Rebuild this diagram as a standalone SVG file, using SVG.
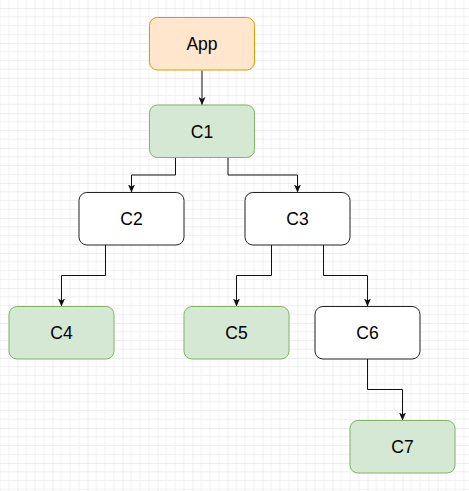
<svg xmlns="http://www.w3.org/2000/svg" width="469" height="491" viewBox="0 0 469 491">
  <defs>
    <pattern id="grid" patternUnits="userSpaceOnUse" x="17.5" y="8" width="35" height="35">
      <path d="M8.75 0V35M17.5 0V35M26.25 0V35M0 8.75H35M0 17.5H35M0 26.25H35" fill="none" stroke="#f0f0f0" stroke-width="1"/>
      <path d="M0 0V35M0 0H35" fill="none" stroke="#dedede" stroke-width="1"/>
    </pattern>
    <marker id="arrow" markerUnits="userSpaceOnUse" viewBox="0 0 8 7" refX="8" refY="3.5" markerWidth="8" markerHeight="7" orient="auto">
      <path d="M0 0L8 3.5L0 7L2 3.5Z" fill="#111"/>
    </marker>
  </defs>
  <style>
    .node rect { stroke-width: 1; }
    .orange rect { fill: #ffe6cc; stroke: #d79b00; }
    .green rect { fill: #d5e8d4; stroke: #82b366; }
    .white rect { fill: #ffffff; stroke: #222222; }
    .node text { font-family: "Liberation Sans", Arial, Helvetica, sans-serif; font-size: 17.5px; fill: #000; text-anchor: middle; }
    .edges path { fill: none; stroke: #111; stroke-width: 1; marker-end: url(#arrow); }
  </style>
  <rect width="469" height="491" fill="#ffffff"/>
  <rect width="469" height="491" fill="url(#grid)"/>

  <g class="edges" id="connectors">
    <path d="M202 70.5V105"/>
    <path d="M175.5 157.5V175H131.5V192.5"/>
    <path d="M228 157.5V175H297.5V192.5"/>
    <path d="M105.5 245V275.5H61.5V306.5"/>
    <path d="M271.5 245V275.5H236.5V306.5"/>
    <path d="M323.5 245V275.5H367.5V306.5"/>
    <path d="M367.5 359V389.5H402.5V420.5"/>
  </g>

  <g id="App" class="node orange">
    <rect x="149.5" y="17.5" width="105" height="52.5" rx="7.9"/>
    <text x="202" y="50.3">App</text>
  </g>
  <g id="C1" class="node green">
    <rect x="149.5" y="105" width="105" height="52.5" rx="7.9"/>
    <text x="202" y="137.8">C1</text>
  </g>
  <g id="C2" class="node white">
    <rect x="79" y="192.5" width="105" height="52.5" rx="7.9"/>
    <text x="131.5" y="225.3">C2</text>
  </g>
  <g id="C3" class="node white">
    <rect x="245" y="192.5" width="105" height="52.5" rx="7.9"/>
    <text x="297.5" y="225.3">C3</text>
  </g>
  <g id="C4" class="node green">
    <rect x="9" y="306.5" width="105" height="52.5" rx="7.9"/>
    <text x="61.5" y="339.3">C4</text>
  </g>
  <g id="C5" class="node green">
    <rect x="184" y="306.5" width="105" height="52.5" rx="7.9"/>
    <text x="236.5" y="339.3">C5</text>
  </g>
  <g id="C6" class="node white">
    <rect x="315" y="306.5" width="105" height="52.5" rx="7.9"/>
    <text x="367.5" y="339.3">C6</text>
  </g>
  <g id="C7" class="node green">
    <rect x="350" y="420.5" width="105" height="52.5" rx="7.9"/>
    <text x="402.5" y="453.3">C7</text>
  </g>
</svg>
